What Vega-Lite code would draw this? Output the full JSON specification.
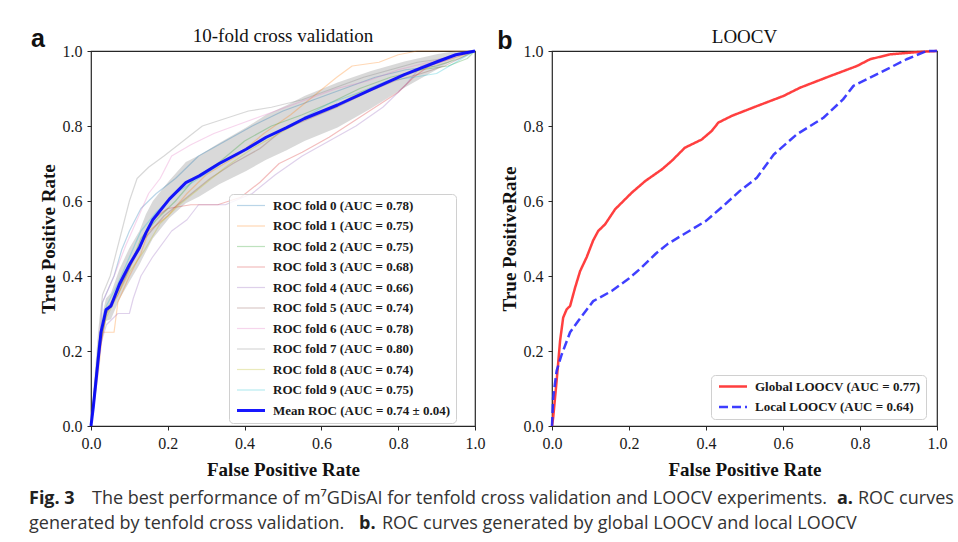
{
  "$schema": "https://vega.github.io/schema/vega-lite/v6.json",
  "background": "white",
  "autosize": {"type": "pad"},
  "padding": {"left": 28, "top": 26, "right": 5, "bottom": 5},
  "bounds": "flush",
  "spacing": 77,
  "resolve": {
    "scale": {"color": "independent", "opacity": "independent", "strokeWidth": "independent", "strokeDash": "independent"},
    "legend": {"color": "independent", "opacity": "independent", "strokeWidth": "independent", "strokeDash": "independent"}
  },
  "config": {
    "font": "Liberation Serif",
    "view": {"stroke": "#262626", "strokeWidth": 1.2},
    "axis": {"grid": false, "domain": false, "tickColor": "#262626", "tickSize": 4, "tickWidth": 1, "labelFont": "Liberation Serif", "labelFontSize": 16, "labelColor": "#1a1a1a", "labelPadding": 5, "titleFont": "Liberation Serif", "titleFontSize": 19, "titleFontWeight": "bold", "titleColor": "#111111", "labelFlush": false, "labelOverlap": false},
    "axisX": {"titlePadding": 9},
    "axisY": {"titlePadding": 4},
    "legend": {"labelFont": "Liberation Serif", "labelFontSize": 13, "labelFontWeight": "bold", "labelColor": "#1a1a1a", "labelLimit": 400, "strokeColor": "#d0d0d0", "fillColor": "rgba(255,255,255,0.8)", "cornerRadius": 4, "padding": 5, "rowPadding": 6.5, "symbolType": "M-1,0H7", "symbolSize": 49, "labelOffset": 26}
  },
  "datasets": {
    "a": [
      {"s":"ROC fold 0 (AUC = 0.78)","x":0,"y":0},{"s":"ROC fold 0 (AUC = 0.78)","x":0.02,"y":0.2},{"s":"ROC fold 0 (AUC = 0.78)","x":0.03,"y":0.33},{"s":"ROC fold 0 (AUC = 0.78)","x":0.06,"y":0.4},{"s":"ROC fold 0 (AUC = 0.78)","x":0.08,"y":0.47},{"s":"ROC fold 0 (AUC = 0.78)","x":0.1,"y":0.52},{"s":"ROC fold 0 (AUC = 0.78)","x":0.13,"y":0.58},{"s":"ROC fold 0 (AUC = 0.78)","x":0.17,"y":0.62},{"s":"ROC fold 0 (AUC = 0.78)","x":0.22,"y":0.66},{"s":"ROC fold 0 (AUC = 0.78)","x":0.28,"y":0.72},{"s":"ROC fold 0 (AUC = 0.78)","x":0.35,"y":0.76},{"s":"ROC fold 0 (AUC = 0.78)","x":0.42,"y":0.8},{"s":"ROC fold 0 (AUC = 0.78)","x":0.5,"y":0.84},{"s":"ROC fold 0 (AUC = 0.78)","x":0.58,"y":0.87},{"s":"ROC fold 0 (AUC = 0.78)","x":0.66,"y":0.9},{"s":"ROC fold 0 (AUC = 0.78)","x":0.74,"y":0.93},{"s":"ROC fold 0 (AUC = 0.78)","x":0.82,"y":0.95},{"s":"ROC fold 0 (AUC = 0.78)","x":0.9,"y":0.96},{"s":"ROC fold 0 (AUC = 0.78)","x":0.96,"y":0.98},{"s":"ROC fold 0 (AUC = 0.78)","x":1,"y":1},
      {"s":"ROC fold 1 (AUC = 0.75)","x":0,"y":0},{"s":"ROC fold 1 (AUC = 0.75)","x":0.02,"y":0.15},{"s":"ROC fold 1 (AUC = 0.75)","x":0.03,"y":0.25},{"s":"ROC fold 1 (AUC = 0.75)","x":0.06,"y":0.25},{"s":"ROC fold 1 (AUC = 0.75)","x":0.07,"y":0.33},{"s":"ROC fold 1 (AUC = 0.75)","x":0.1,"y":0.4},{"s":"ROC fold 1 (AUC = 0.75)","x":0.13,"y":0.46},{"s":"ROC fold 1 (AUC = 0.75)","x":0.15,"y":0.52},{"s":"ROC fold 1 (AUC = 0.75)","x":0.2,"y":0.56},{"s":"ROC fold 1 (AUC = 0.75)","x":0.25,"y":0.62},{"s":"ROC fold 1 (AUC = 0.75)","x":0.3,"y":0.67},{"s":"ROC fold 1 (AUC = 0.75)","x":0.38,"y":0.72},{"s":"ROC fold 1 (AUC = 0.75)","x":0.45,"y":0.78},{"s":"ROC fold 1 (AUC = 0.75)","x":0.52,"y":0.83},{"s":"ROC fold 1 (AUC = 0.75)","x":0.58,"y":0.88},{"s":"ROC fold 1 (AUC = 0.75)","x":0.64,"y":0.93},{"s":"ROC fold 1 (AUC = 0.75)","x":0.68,"y":0.96},{"s":"ROC fold 1 (AUC = 0.75)","x":0.75,"y":0.97},{"s":"ROC fold 1 (AUC = 0.75)","x":0.8,"y":0.99},{"s":"ROC fold 1 (AUC = 0.75)","x":0.85,"y":1},{"s":"ROC fold 1 (AUC = 0.75)","x":1,"y":1},
      {"s":"ROC fold 2 (AUC = 0.75)","x":0,"y":0},{"s":"ROC fold 2 (AUC = 0.75)","x":0.02,"y":0.2},{"s":"ROC fold 2 (AUC = 0.75)","x":0.04,"y":0.3},{"s":"ROC fold 2 (AUC = 0.75)","x":0.07,"y":0.36},{"s":"ROC fold 2 (AUC = 0.75)","x":0.1,"y":0.42},{"s":"ROC fold 2 (AUC = 0.75)","x":0.13,"y":0.5},{"s":"ROC fold 2 (AUC = 0.75)","x":0.17,"y":0.55},{"s":"ROC fold 2 (AUC = 0.75)","x":0.22,"y":0.6},{"s":"ROC fold 2 (AUC = 0.75)","x":0.27,"y":0.66},{"s":"ROC fold 2 (AUC = 0.75)","x":0.33,"y":0.7},{"s":"ROC fold 2 (AUC = 0.75)","x":0.4,"y":0.76},{"s":"ROC fold 2 (AUC = 0.75)","x":0.47,"y":0.8},{"s":"ROC fold 2 (AUC = 0.75)","x":0.55,"y":0.83},{"s":"ROC fold 2 (AUC = 0.75)","x":0.62,"y":0.86},{"s":"ROC fold 2 (AUC = 0.75)","x":0.7,"y":0.9},{"s":"ROC fold 2 (AUC = 0.75)","x":0.78,"y":0.93},{"s":"ROC fold 2 (AUC = 0.75)","x":0.86,"y":0.95},{"s":"ROC fold 2 (AUC = 0.75)","x":0.93,"y":0.96},{"s":"ROC fold 2 (AUC = 0.75)","x":0.98,"y":0.98},{"s":"ROC fold 2 (AUC = 0.75)","x":1,"y":1},
      {"s":"ROC fold 3 (AUC = 0.68)","x":0,"y":0},{"s":"ROC fold 3 (AUC = 0.68)","x":0.02,"y":0.18},{"s":"ROC fold 3 (AUC = 0.68)","x":0.04,"y":0.3},{"s":"ROC fold 3 (AUC = 0.68)","x":0.07,"y":0.35},{"s":"ROC fold 3 (AUC = 0.68)","x":0.1,"y":0.42},{"s":"ROC fold 3 (AUC = 0.68)","x":0.13,"y":0.48},{"s":"ROC fold 3 (AUC = 0.68)","x":0.16,"y":0.55},{"s":"ROC fold 3 (AUC = 0.68)","x":0.2,"y":0.58},{"s":"ROC fold 3 (AUC = 0.68)","x":0.26,"y":0.59},{"s":"ROC fold 3 (AUC = 0.68)","x":0.33,"y":0.59},{"s":"ROC fold 3 (AUC = 0.68)","x":0.39,"y":0.61},{"s":"ROC fold 3 (AUC = 0.68)","x":0.44,"y":0.65},{"s":"ROC fold 3 (AUC = 0.68)","x":0.49,"y":0.7},{"s":"ROC fold 3 (AUC = 0.68)","x":0.55,"y":0.73},{"s":"ROC fold 3 (AUC = 0.68)","x":0.62,"y":0.77},{"s":"ROC fold 3 (AUC = 0.68)","x":0.68,"y":0.81},{"s":"ROC fold 3 (AUC = 0.68)","x":0.74,"y":0.85},{"s":"ROC fold 3 (AUC = 0.68)","x":0.8,"y":0.89},{"s":"ROC fold 3 (AUC = 0.68)","x":0.84,"y":0.93},{"s":"ROC fold 3 (AUC = 0.68)","x":0.88,"y":0.96},{"s":"ROC fold 3 (AUC = 0.68)","x":0.94,"y":0.98},{"s":"ROC fold 3 (AUC = 0.68)","x":1,"y":1},
      {"s":"ROC fold 4 (AUC = 0.66)","x":0,"y":0},{"s":"ROC fold 4 (AUC = 0.66)","x":0.02,"y":0.2},{"s":"ROC fold 4 (AUC = 0.66)","x":0.04,"y":0.27},{"s":"ROC fold 4 (AUC = 0.66)","x":0.07,"y":0.3},{"s":"ROC fold 4 (AUC = 0.66)","x":0.1,"y":0.3},{"s":"ROC fold 4 (AUC = 0.66)","x":0.11,"y":0.34},{"s":"ROC fold 4 (AUC = 0.66)","x":0.13,"y":0.4},{"s":"ROC fold 4 (AUC = 0.66)","x":0.16,"y":0.45},{"s":"ROC fold 4 (AUC = 0.66)","x":0.21,"y":0.52},{"s":"ROC fold 4 (AUC = 0.66)","x":0.25,"y":0.55},{"s":"ROC fold 4 (AUC = 0.66)","x":0.28,"y":0.59},{"s":"ROC fold 4 (AUC = 0.66)","x":0.35,"y":0.59},{"s":"ROC fold 4 (AUC = 0.66)","x":0.42,"y":0.62},{"s":"ROC fold 4 (AUC = 0.66)","x":0.48,"y":0.67},{"s":"ROC fold 4 (AUC = 0.66)","x":0.55,"y":0.72},{"s":"ROC fold 4 (AUC = 0.66)","x":0.62,"y":0.76},{"s":"ROC fold 4 (AUC = 0.66)","x":0.69,"y":0.8},{"s":"ROC fold 4 (AUC = 0.66)","x":0.76,"y":0.85},{"s":"ROC fold 4 (AUC = 0.66)","x":0.82,"y":0.91},{"s":"ROC fold 4 (AUC = 0.66)","x":0.86,"y":0.96},{"s":"ROC fold 4 (AUC = 0.66)","x":0.92,"y":0.98},{"s":"ROC fold 4 (AUC = 0.66)","x":1,"y":1},
      {"s":"ROC fold 5 (AUC = 0.74)","x":0,"y":0},{"s":"ROC fold 5 (AUC = 0.74)","x":0.02,"y":0.22},{"s":"ROC fold 5 (AUC = 0.74)","x":0.04,"y":0.31},{"s":"ROC fold 5 (AUC = 0.74)","x":0.07,"y":0.36},{"s":"ROC fold 5 (AUC = 0.74)","x":0.1,"y":0.43},{"s":"ROC fold 5 (AUC = 0.74)","x":0.14,"y":0.5},{"s":"ROC fold 5 (AUC = 0.74)","x":0.19,"y":0.56},{"s":"ROC fold 5 (AUC = 0.74)","x":0.25,"y":0.61},{"s":"ROC fold 5 (AUC = 0.74)","x":0.31,"y":0.66},{"s":"ROC fold 5 (AUC = 0.74)","x":0.37,"y":0.7},{"s":"ROC fold 5 (AUC = 0.74)","x":0.44,"y":0.74},{"s":"ROC fold 5 (AUC = 0.74)","x":0.5,"y":0.79},{"s":"ROC fold 5 (AUC = 0.74)","x":0.57,"y":0.82},{"s":"ROC fold 5 (AUC = 0.74)","x":0.64,"y":0.85},{"s":"ROC fold 5 (AUC = 0.74)","x":0.72,"y":0.89},{"s":"ROC fold 5 (AUC = 0.74)","x":0.79,"y":0.92},{"s":"ROC fold 5 (AUC = 0.74)","x":0.86,"y":0.94},{"s":"ROC fold 5 (AUC = 0.74)","x":0.92,"y":0.96},{"s":"ROC fold 5 (AUC = 0.74)","x":1,"y":1},
      {"s":"ROC fold 6 (AUC = 0.78)","x":0,"y":0},{"s":"ROC fold 6 (AUC = 0.78)","x":0.02,"y":0.22},{"s":"ROC fold 6 (AUC = 0.78)","x":0.03,"y":0.33},{"s":"ROC fold 6 (AUC = 0.78)","x":0.06,"y":0.4},{"s":"ROC fold 6 (AUC = 0.78)","x":0.09,"y":0.48},{"s":"ROC fold 6 (AUC = 0.78)","x":0.12,"y":0.55},{"s":"ROC fold 6 (AUC = 0.78)","x":0.15,"y":0.62},{"s":"ROC fold 6 (AUC = 0.78)","x":0.18,"y":0.66},{"s":"ROC fold 6 (AUC = 0.78)","x":0.21,"y":0.72},{"s":"ROC fold 6 (AUC = 0.78)","x":0.26,"y":0.75},{"s":"ROC fold 6 (AUC = 0.78)","x":0.32,"y":0.78},{"s":"ROC fold 6 (AUC = 0.78)","x":0.4,"y":0.81},{"s":"ROC fold 6 (AUC = 0.78)","x":0.48,"y":0.84},{"s":"ROC fold 6 (AUC = 0.78)","x":0.56,"y":0.87},{"s":"ROC fold 6 (AUC = 0.78)","x":0.64,"y":0.9},{"s":"ROC fold 6 (AUC = 0.78)","x":0.72,"y":0.92},{"s":"ROC fold 6 (AUC = 0.78)","x":0.8,"y":0.95},{"s":"ROC fold 6 (AUC = 0.78)","x":0.88,"y":0.97},{"s":"ROC fold 6 (AUC = 0.78)","x":0.95,"y":0.99},{"s":"ROC fold 6 (AUC = 0.78)","x":1,"y":1},
      {"s":"ROC fold 7 (AUC = 0.80)","x":0,"y":0},{"s":"ROC fold 7 (AUC = 0.80)","x":0.02,"y":0.25},{"s":"ROC fold 7 (AUC = 0.80)","x":0.03,"y":0.35},{"s":"ROC fold 7 (AUC = 0.80)","x":0.05,"y":0.4},{"s":"ROC fold 7 (AUC = 0.80)","x":0.08,"y":0.52},{"s":"ROC fold 7 (AUC = 0.80)","x":0.1,"y":0.6},{"s":"ROC fold 7 (AUC = 0.80)","x":0.12,"y":0.66},{"s":"ROC fold 7 (AUC = 0.80)","x":0.15,"y":0.69},{"s":"ROC fold 7 (AUC = 0.80)","x":0.19,"y":0.72},{"s":"ROC fold 7 (AUC = 0.80)","x":0.24,"y":0.76},{"s":"ROC fold 7 (AUC = 0.80)","x":0.29,"y":0.8},{"s":"ROC fold 7 (AUC = 0.80)","x":0.35,"y":0.82},{"s":"ROC fold 7 (AUC = 0.80)","x":0.41,"y":0.84},{"s":"ROC fold 7 (AUC = 0.80)","x":0.47,"y":0.85},{"s":"ROC fold 7 (AUC = 0.80)","x":0.55,"y":0.87},{"s":"ROC fold 7 (AUC = 0.80)","x":0.63,"y":0.9},{"s":"ROC fold 7 (AUC = 0.80)","x":0.71,"y":0.93},{"s":"ROC fold 7 (AUC = 0.80)","x":0.78,"y":0.95},{"s":"ROC fold 7 (AUC = 0.80)","x":0.85,"y":0.97},{"s":"ROC fold 7 (AUC = 0.80)","x":0.92,"y":0.98},{"s":"ROC fold 7 (AUC = 0.80)","x":1,"y":1},
      {"s":"ROC fold 8 (AUC = 0.74)","x":0,"y":0},{"s":"ROC fold 8 (AUC = 0.74)","x":0.02,"y":0.2},{"s":"ROC fold 8 (AUC = 0.74)","x":0.04,"y":0.29},{"s":"ROC fold 8 (AUC = 0.74)","x":0.07,"y":0.35},{"s":"ROC fold 8 (AUC = 0.74)","x":0.1,"y":0.41},{"s":"ROC fold 8 (AUC = 0.74)","x":0.14,"y":0.47},{"s":"ROC fold 8 (AUC = 0.74)","x":0.18,"y":0.54},{"s":"ROC fold 8 (AUC = 0.74)","x":0.23,"y":0.59},{"s":"ROC fold 8 (AUC = 0.74)","x":0.29,"y":0.64},{"s":"ROC fold 8 (AUC = 0.74)","x":0.35,"y":0.69},{"s":"ROC fold 8 (AUC = 0.74)","x":0.42,"y":0.74},{"s":"ROC fold 8 (AUC = 0.74)","x":0.49,"y":0.78},{"s":"ROC fold 8 (AUC = 0.74)","x":0.56,"y":0.82},{"s":"ROC fold 8 (AUC = 0.74)","x":0.63,"y":0.85},{"s":"ROC fold 8 (AUC = 0.74)","x":0.7,"y":0.89},{"s":"ROC fold 8 (AUC = 0.74)","x":0.78,"y":0.92},{"s":"ROC fold 8 (AUC = 0.74)","x":0.86,"y":0.95},{"s":"ROC fold 8 (AUC = 0.74)","x":0.93,"y":0.97},{"s":"ROC fold 8 (AUC = 0.74)","x":1,"y":1},
      {"s":"ROC fold 9 (AUC = 0.75)","x":0,"y":0},{"s":"ROC fold 9 (AUC = 0.75)","x":0.02,"y":0.22},{"s":"ROC fold 9 (AUC = 0.75)","x":0.04,"y":0.32},{"s":"ROC fold 9 (AUC = 0.75)","x":0.07,"y":0.38},{"s":"ROC fold 9 (AUC = 0.75)","x":0.1,"y":0.45},{"s":"ROC fold 9 (AUC = 0.75)","x":0.13,"y":0.52},{"s":"ROC fold 9 (AUC = 0.75)","x":0.17,"y":0.57},{"s":"ROC fold 9 (AUC = 0.75)","x":0.22,"y":0.62},{"s":"ROC fold 9 (AUC = 0.75)","x":0.28,"y":0.66},{"s":"ROC fold 9 (AUC = 0.75)","x":0.34,"y":0.7},{"s":"ROC fold 9 (AUC = 0.75)","x":0.41,"y":0.74},{"s":"ROC fold 9 (AUC = 0.75)","x":0.48,"y":0.78},{"s":"ROC fold 9 (AUC = 0.75)","x":0.55,"y":0.82},{"s":"ROC fold 9 (AUC = 0.75)","x":0.62,"y":0.86},{"s":"ROC fold 9 (AUC = 0.75)","x":0.7,"y":0.89},{"s":"ROC fold 9 (AUC = 0.75)","x":0.77,"y":0.92},{"s":"ROC fold 9 (AUC = 0.75)","x":0.84,"y":0.93},{"s":"ROC fold 9 (AUC = 0.75)","x":0.9,"y":0.94},{"s":"ROC fold 9 (AUC = 0.75)","x":0.95,"y":0.97},{"s":"ROC fold 9 (AUC = 0.75)","x":1,"y":1},
      {"s":"Mean ROC (AUC = 0.74 ± 0.04)","x":0,"y":0,"lo":0,"hi":0},
      {"s":"Mean ROC (AUC = 0.74 ± 0.04)","x":0.006,"y":0.05,"lo":0.03,"hi":0.07},
      {"s":"Mean ROC (AUC = 0.74 ± 0.04)","x":0.013,"y":0.12,"lo":0.09,"hi":0.15},
      {"s":"Mean ROC (AUC = 0.74 ± 0.04)","x":0.026,"y":0.25,"lo":0.22,"hi":0.28},
      {"s":"Mean ROC (AUC = 0.74 ± 0.04)","x":0.039,"y":0.31,"lo":0.28,"hi":0.34},
      {"s":"Mean ROC (AUC = 0.74 ± 0.04)","x":0.052,"y":0.32,"lo":0.285,"hi":0.355},
      {"s":"Mean ROC (AUC = 0.74 ± 0.04)","x":0.074,"y":0.378,"lo":0.338,"hi":0.418},
      {"s":"Mean ROC (AUC = 0.74 ± 0.04)","x":0.1,"y":0.43,"lo":0.385,"hi":0.475},
      {"s":"Mean ROC (AUC = 0.74 ± 0.04)","x":0.126,"y":0.475,"lo":0.43,"hi":0.52},
      {"s":"Mean ROC (AUC = 0.74 ± 0.04)","x":0.143,"y":0.515,"lo":0.465,"hi":0.565},
      {"s":"Mean ROC (AUC = 0.74 ± 0.04)","x":0.161,"y":0.55,"lo":0.5,"hi":0.6},
      {"s":"Mean ROC (AUC = 0.74 ± 0.04)","x":0.204,"y":0.605,"lo":0.555,"hi":0.655},
      {"s":"Mean ROC (AUC = 0.74 ± 0.04)","x":0.247,"y":0.649,"lo":0.594,"hi":0.704},
      {"s":"Mean ROC (AUC = 0.74 ± 0.04)","x":0.282,"y":0.667,"lo":0.612,"hi":0.722},
      {"s":"Mean ROC (AUC = 0.74 ± 0.04)","x":0.334,"y":0.7,"lo":0.645,"hi":0.755},
      {"s":"Mean ROC (AUC = 0.74 ± 0.04)","x":0.404,"y":0.738,"lo":0.68,"hi":0.796},
      {"s":"Mean ROC (AUC = 0.74 ± 0.04)","x":0.456,"y":0.77,"lo":0.71,"hi":0.83},
      {"s":"Mean ROC (AUC = 0.74 ± 0.04)","x":0.508,"y":0.795,"lo":0.735,"hi":0.855},
      {"s":"Mean ROC (AUC = 0.74 ± 0.04)","x":0.556,"y":0.82,"lo":0.76,"hi":0.88},
      {"s":"Mean ROC (AUC = 0.74 ± 0.04)","x":0.642,"y":0.856,"lo":0.796,"hi":0.916},
      {"s":"Mean ROC (AUC = 0.74 ± 0.04)","x":0.729,"y":0.897,"lo":0.847,"hi":0.947},
      {"s":"Mean ROC (AUC = 0.74 ± 0.04)","x":0.816,"y":0.937,"lo":0.902,"hi":0.972},
      {"s":"Mean ROC (AUC = 0.74 ± 0.04)","x":0.903,"y":0.972,"lo":0.952,"hi":0.992},
      {"s":"Mean ROC (AUC = 0.74 ± 0.04)","x":0.95,"y":0.99,"lo":0.98,"hi":1},
      {"s":"Mean ROC (AUC = 0.74 ± 0.04)","x":1,"y":1,"lo":1,"hi":1}
    ],
    "b": [
      {"s":"Global LOOCV (AUC = 0.77)","x":0,"y":0},{"s":"Global LOOCV (AUC = 0.77)","x":0.003,"y":0.022},{"s":"Global LOOCV (AUC = 0.77)","x":0.012,"y":0.12},{"s":"Global LOOCV (AUC = 0.77)","x":0.021,"y":0.227},{"s":"Global LOOCV (AUC = 0.77)","x":0.029,"y":0.289},{"s":"Global LOOCV (AUC = 0.77)","x":0.038,"y":0.311},{"s":"Global LOOCV (AUC = 0.77)","x":0.047,"y":0.32},{"s":"Global LOOCV (AUC = 0.77)","x":0.06,"y":0.369},{"s":"Global LOOCV (AUC = 0.77)","x":0.073,"y":0.413},{"s":"Global LOOCV (AUC = 0.77)","x":0.09,"y":0.45},{"s":"Global LOOCV (AUC = 0.77)","x":0.107,"y":0.495},{"s":"Global LOOCV (AUC = 0.77)","x":0.12,"y":0.52},{"s":"Global LOOCV (AUC = 0.77)","x":0.138,"y":0.538},{"s":"Global LOOCV (AUC = 0.77)","x":0.164,"y":0.578},{"s":"Global LOOCV (AUC = 0.77)","x":0.207,"y":0.622},{"s":"Global LOOCV (AUC = 0.77)","x":0.242,"y":0.653},{"s":"Global LOOCV (AUC = 0.77)","x":0.285,"y":0.684},{"s":"Global LOOCV (AUC = 0.77)","x":0.311,"y":0.707},{"s":"Global LOOCV (AUC = 0.77)","x":0.345,"y":0.742},{"s":"Global LOOCV (AUC = 0.77)","x":0.389,"y":0.764},{"s":"Global LOOCV (AUC = 0.77)","x":0.415,"y":0.787},{"s":"Global LOOCV (AUC = 0.77)","x":0.432,"y":0.809},{"s":"Global LOOCV (AUC = 0.77)","x":0.467,"y":0.827},{"s":"Global LOOCV (AUC = 0.77)","x":0.532,"y":0.853},{"s":"Global LOOCV (AUC = 0.77)","x":0.601,"y":0.88},{"s":"Global LOOCV (AUC = 0.77)","x":0.644,"y":0.902},{"s":"Global LOOCV (AUC = 0.77)","x":0.722,"y":0.933},{"s":"Global LOOCV (AUC = 0.77)","x":0.792,"y":0.96},{"s":"Global LOOCV (AUC = 0.77)","x":0.826,"y":0.978},{"s":"Global LOOCV (AUC = 0.77)","x":0.878,"y":0.991},{"s":"Global LOOCV (AUC = 0.77)","x":0.947,"y":0.997},{"s":"Global LOOCV (AUC = 0.77)","x":1,"y":1},
      {"s":"Local LOOCV (AUC = 0.64)","x":0,"y":0},{"s":"Local LOOCV (AUC = 0.64)","x":0.003,"y":0.076},{"s":"Local LOOCV (AUC = 0.64)","x":0.012,"y":0.147},{"s":"Local LOOCV (AUC = 0.64)","x":0.025,"y":0.19},{"s":"Local LOOCV (AUC = 0.64)","x":0.047,"y":0.25},{"s":"Local LOOCV (AUC = 0.64)","x":0.068,"y":0.28},{"s":"Local LOOCV (AUC = 0.64)","x":0.09,"y":0.31},{"s":"Local LOOCV (AUC = 0.64)","x":0.107,"y":0.333},{"s":"Local LOOCV (AUC = 0.64)","x":0.155,"y":0.36},{"s":"Local LOOCV (AUC = 0.64)","x":0.198,"y":0.392},{"s":"Local LOOCV (AUC = 0.64)","x":0.23,"y":0.42},{"s":"Local LOOCV (AUC = 0.64)","x":0.27,"y":0.46},{"s":"Local LOOCV (AUC = 0.64)","x":0.3,"y":0.485},{"s":"Local LOOCV (AUC = 0.64)","x":0.34,"y":0.51},{"s":"Local LOOCV (AUC = 0.64)","x":0.4,"y":0.547},{"s":"Local LOOCV (AUC = 0.64)","x":0.445,"y":0.587},{"s":"Local LOOCV (AUC = 0.64)","x":0.488,"y":0.627},{"s":"Local LOOCV (AUC = 0.64)","x":0.532,"y":0.662},{"s":"Local LOOCV (AUC = 0.64)","x":0.576,"y":0.724},{"s":"Local LOOCV (AUC = 0.64)","x":0.636,"y":0.778},{"s":"Local LOOCV (AUC = 0.64)","x":0.705,"y":0.822},{"s":"Local LOOCV (AUC = 0.64)","x":0.756,"y":0.871},{"s":"Local LOOCV (AUC = 0.64)","x":0.783,"y":0.907},{"s":"Local LOOCV (AUC = 0.64)","x":0.852,"y":0.942},{"s":"Local LOOCV (AUC = 0.64)","x":0.921,"y":0.978},{"s":"Local LOOCV (AUC = 0.64)","x":0.973,"y":1},{"s":"Local LOOCV (AUC = 0.64)","x":1,"y":1}
    ]
  },
  "hconcat": [
    {
      "width": 384,
      "height": 375,
      "data": {"name": "a"},
      "encoding": {
        "x": {"field": "x", "type": "quantitative", "scale": {"domain": [0, 1], "nice": false}, "title": "False Positive Rate", "axis": {"values": [0, 0.2, 0.4, 0.6, 0.8, 1], "format": ".1f"}},
        "y": {"field": "y", "type": "quantitative", "scale": {"domain": [0, 1], "nice": false}, "title": "True Positive Rate", "axis": {"values": [0, 0.2, 0.4, 0.6, 0.8, 1], "format": ".1f"}}
      },
      "layer": [
        {
          "transform": [{"filter": "isValid(datum.lo)"}],
          "mark": {"type": "area", "color": "#808080", "opacity": 0.3},
          "encoding": {
            "y": {"field": "lo", "type": "quantitative", "scale": {"domain": [0, 1], "nice": false}, "title": "True Positive Rate", "axis": {"values": [0, 0.2, 0.4, 0.6, 0.8, 1], "format": ".1f"}},
            "y2": {"field": "hi"}
          }
        },
        {
          "mark": {"type": "line", "strokeJoin": "round"},
          "encoding": {
            "color": {
              "field": "s", "type": "nominal",
              "scale": {
                "domain": ["ROC fold 0 (AUC = 0.78)", "ROC fold 1 (AUC = 0.75)", "ROC fold 2 (AUC = 0.75)", "ROC fold 3 (AUC = 0.68)", "ROC fold 4 (AUC = 0.66)", "ROC fold 5 (AUC = 0.74)", "ROC fold 6 (AUC = 0.78)", "ROC fold 7 (AUC = 0.80)", "ROC fold 8 (AUC = 0.74)", "ROC fold 9 (AUC = 0.75)", "Mean ROC (AUC = 0.74 ± 0.04)"],
                "range": ["#1f77b4", "#ff7f0e", "#2ca02c", "#d62728", "#9467bd", "#8c564b", "#e377c2", "#7f7f7f", "#bcbd22", "#17becf", "#0000ff"]
              },
              "legend": {"title": null, "orient": "none", "legendX": 138, "legendY": 143}
            },
            "opacity": {
              "field": "s", "type": "nominal",
              "scale": {
                "type": "ordinal",
                "domain": ["ROC fold 0 (AUC = 0.78)", "ROC fold 1 (AUC = 0.75)", "ROC fold 2 (AUC = 0.75)", "ROC fold 3 (AUC = 0.68)", "ROC fold 4 (AUC = 0.66)", "ROC fold 5 (AUC = 0.74)", "ROC fold 6 (AUC = 0.78)", "ROC fold 7 (AUC = 0.80)", "ROC fold 8 (AUC = 0.74)", "ROC fold 9 (AUC = 0.75)", "Mean ROC (AUC = 0.74 ± 0.04)"],
                "range": [0.3, 0.3, 0.3, 0.3, 0.3, 0.3, 0.3, 0.3, 0.3, 0.3, 0.9]
              },
              "legend": {"title": null, "orient": "none", "legendX": 138, "legendY": 143}
            },
            "strokeWidth": {
              "field": "s", "type": "nominal",
              "scale": {
                "type": "ordinal",
                "domain": ["ROC fold 0 (AUC = 0.78)", "ROC fold 1 (AUC = 0.75)", "ROC fold 2 (AUC = 0.75)", "ROC fold 3 (AUC = 0.68)", "ROC fold 4 (AUC = 0.66)", "ROC fold 5 (AUC = 0.74)", "ROC fold 6 (AUC = 0.78)", "ROC fold 7 (AUC = 0.80)", "ROC fold 8 (AUC = 0.74)", "ROC fold 9 (AUC = 0.75)", "Mean ROC (AUC = 0.74 ± 0.04)"],
                "range": [1.2, 1.2, 1.2, 1.2, 1.2, 1.2, 1.2, 1.2, 1.2, 1.2, 3]
              },
              "legend": {"title": null, "orient": "none", "legendX": 138, "legendY": 143}
            }
          }
        },
        {
          "data": {"values": [{}]},
          "mark": {"type": "text", "text": "10-fold cross validation", "font": "Liberation Serif", "fontSize": 19, "align": "center", "baseline": "alphabetic", "color": "#111111"},
          "encoding": {"x": {"value": 192}, "y": {"value": -9}}
        },
        {
          "data": {"values": [{}]},
          "mark": {"type": "text", "text": "a", "font": "Liberation Sans", "fontSize": 25, "fontWeight": "bold", "align": "center", "baseline": "alphabetic", "color": "#111111"},
          "encoding": {"x": {"value": -53}, "y": {"value": -4}}
        },
        {
          "data": {"values": [{}]},
          "mark": {"type": "text", "text": "Fig. 3", "font": "Open Sans", "fontSize": 18, "fontWeight": "bold", "align": "left", "baseline": "alphabetic", "color": "#222222"},
          "encoding": {"x": {"value": -62}, "y": {"value": 453}}
        },
        {
          "data": {"values": [{}]},
          "mark": {"type": "text", "text": "The best performance of m⁷GDisAI for tenfold cross validation and LOOCV experiments.", "font": "Open Sans", "fontSize": 18, "align": "left", "baseline": "alphabetic", "color": "#333333"},
          "encoding": {"x": {"value": 1}, "y": {"value": 453}}
        },
        {
          "data": {"values": [{}]},
          "mark": {"type": "text", "text": "a.", "font": "Open Sans", "fontSize": 18, "fontWeight": "bold", "align": "left", "baseline": "alphabetic", "color": "#222222"},
          "encoding": {"x": {"value": 746}, "y": {"value": 453}}
        },
        {
          "data": {"values": [{}]},
          "mark": {"type": "text", "text": "ROC curves", "font": "Open Sans", "fontSize": 18, "align": "left", "baseline": "alphabetic", "color": "#333333"},
          "encoding": {"x": {"value": 767}, "y": {"value": 453}}
        },
        {
          "data": {"values": [{}]},
          "mark": {"type": "text", "text": "generated by tenfold cross validation.", "font": "Open Sans", "fontSize": 18, "align": "left", "baseline": "alphabetic", "color": "#333333"},
          "encoding": {"x": {"value": -62}, "y": {"value": 478}}
        },
        {
          "data": {"values": [{}]},
          "mark": {"type": "text", "text": "b.", "font": "Open Sans", "fontSize": 18, "fontWeight": "bold", "align": "left", "baseline": "alphabetic", "color": "#222222"},
          "encoding": {"x": {"value": 268}, "y": {"value": 478}}
        },
        {
          "data": {"values": [{}]},
          "mark": {"type": "text", "text": "ROC curves generated by global LOOCV and local LOOCV", "font": "Open Sans", "fontSize": 18, "align": "left", "baseline": "alphabetic", "color": "#333333"},
          "encoding": {"x": {"value": 291}, "y": {"value": 478}}
        }
      ]
    },
    {
      "width": 385,
      "height": 375,
      "data": {"name": "b"},
      "layer": [
        {
          "mark": {"type": "line", "strokeJoin": "round"},
          "encoding": {
            "x": {"field": "x", "type": "quantitative", "scale": {"domain": [0, 1], "nice": false}, "title": "False Positive Rate", "axis": {"values": [0, 0.2, 0.4, 0.6, 0.8, 1], "format": ".1f"}},
            "y": {"field": "y", "type": "quantitative", "scale": {"domain": [0, 1], "nice": false}, "title": "True PositiveRate", "axis": {"values": [0, 0.2, 0.4, 0.6, 0.8, 1], "format": ".1f"}},
            "color": {
              "field": "s", "type": "nominal",
              "scale": {"domain": ["Global LOOCV (AUC = 0.77)", "Local LOOCV (AUC = 0.64)"], "range": ["#ff2a2a", "#2a2aff"]},
              "legend": {"title": null, "orient": "none", "legendX": 159, "legendY": 324, "symbolStrokeWidth": 2.5}
            },
            "strokeDash": {
              "field": "s", "type": "nominal",
              "scale": {"domain": ["Global LOOCV (AUC = 0.77)", "Local LOOCV (AUC = 0.64)"], "range": [[1, 0], [9, 4]]},
              "legend": {"title": null, "orient": "none", "legendX": 159, "legendY": 324, "symbolStrokeWidth": 2.5}
            },
            "strokeWidth": {"value": 2.5},
            "opacity": {"value": 0.9}
          }
        },
        {
          "data": {"values": [{}]},
          "mark": {"type": "text", "text": "LOOCV", "font": "Liberation Serif", "fontSize": 19, "align": "center", "baseline": "alphabetic", "color": "#111111"},
          "encoding": {"x": {"value": 192.5}, "y": {"value": -8}}
        },
        {
          "data": {"values": [{}]},
          "mark": {"type": "text", "text": "b", "font": "Liberation Sans", "fontSize": 25, "fontWeight": "bold", "align": "center", "baseline": "alphabetic", "color": "#111111"},
          "encoding": {"x": {"value": -47}, "y": {"value": -2}}
        }
      ]
    }
  ]
}
